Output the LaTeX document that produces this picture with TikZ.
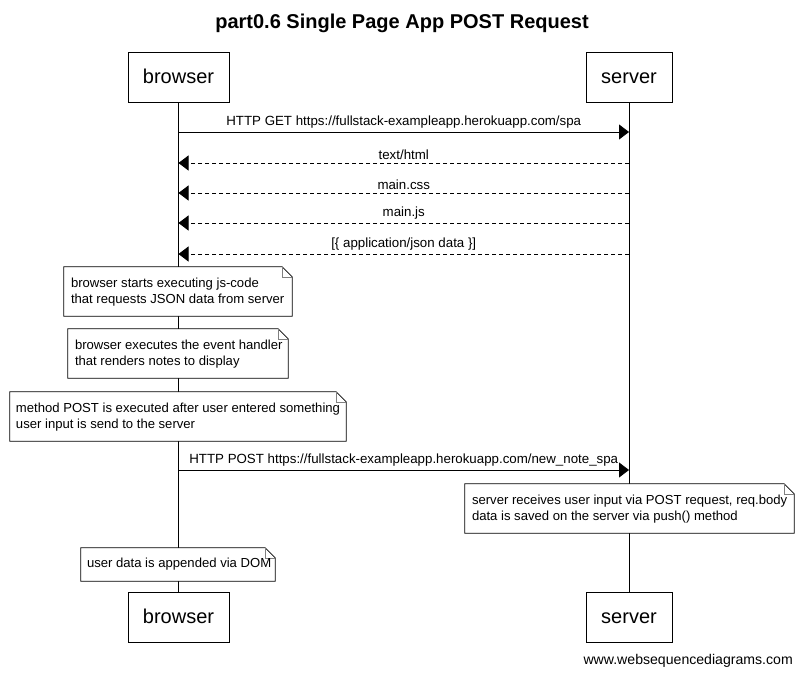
\documentclass[tikz,border=0pt]{standalone}
\usepackage{fontspec}
\setmainfont{Liberation Sans}
\usetikzlibrary{arrows.meta,fit}
\tikzset{
  actor/.style={draw, line width=0.8pt, fill=white, minimum width=#1, minimum height=50pt, inner sep=0pt, text height=14pt, text depth=2pt, font=\fontsize{20}{24}\selectfont},
  msg/.style={line width=0.8pt, -{Triangle[length=10pt,width=15pt]}},
  reply/.style={msg, dash pattern=on 4pt off 3pt},
  lbl/.style={font=\fontsize{13.3}{16}\selectfont, inner sep=0pt, anchor=base},
  notetext/.style={font=\fontsize{13.1}{16}\selectfont, align=left, inner sep=0pt, anchor=north west, text depth=0pt},
  life/.style={line width=0.8pt},
}
\newcommand{\drawnote}[1]{%
  \draw[line width=0.8pt, fill=white] (#1.north west) -- ([xshift=-10pt]#1.north east) -- ([yshift=-10pt]#1.north east) -- (#1.south east) -- (#1.south west) -- cycle;
  \draw[line width=0.6pt, draw=gray] ([xshift=-10pt]#1.north east) -- ([xshift=-10pt,yshift=-10pt]#1.north east) -- ([yshift=-10pt]#1.north east);
}
\newcommand{\notearea}[5]{% name, x1, y1, x2, y2
  \path (#2,#3) coordinate (#1nw) (#4,#5) coordinate (#1se);
  \node[fit=(#1nw)(#1se), inner sep=0pt] (#1) {};
}
\begin{document}
\begin{tikzpicture}[x=1pt,y=-1pt]
\useasboundingbox[fill=white] (0,0) rectangle (802,677);
\node[font=\bfseries\fontsize{20}{24}\selectfont] (title) at (402,23) {part0.6 Single Page App POST Request};

\node[actor=101pt] (bt) at (178.5,77) {browser};
\node[actor=86pt] (st) at (629,77) {server};
\node[actor=101pt] (bb) at (178.5,617.5) {browser};
\node[actor=86pt] (sb) at (629,617.5) {server};
\draw[life] (bt.south) -- (bb.north);
\draw[life] (st.south) -- (sb.north);

% messages
\path (bt.south |- 0,132) coordinate (m1a) (st.south |- 0,132) coordinate (m1b);
\draw[msg] (m1a) -- (m1b) node[lbl, midway, above=3pt] {HTTP GET https://fullstack-exampleapp.herokuapp.com/spa};
\path (st.south |- 0,163) coordinate (m2a) (bt.south |- 0,163) coordinate (m2b);
\draw[reply] (m2a) -- (m2b) node[lbl, midway, above=3pt] {text/html};
\path (st.south |- 0,193) coordinate (m3a) (bt.south |- 0,193) coordinate (m3b);
\draw[reply] (m3a) -- (m3b) node[lbl, midway, above=3pt] {main.css};
\path (st.south |- 0,223) coordinate (m4a) (bt.south |- 0,223) coordinate (m4b);
\draw[reply] (m4a) -- (m4b) node[lbl, midway, above=3pt] {main.js};
\path (st.south |- 0,254) coordinate (m5a) (bt.south |- 0,254) coordinate (m5b);
\draw[reply] (m5a) -- (m5b) node[lbl, midway, above=3pt] {[\{ application/json data \}]};

% notes
\notearea{n1}{64}{267}{292}{316}
\drawnote{n1}
\node[notetext] (t1) at ([xshift=7pt,yshift=-11pt]n1.north west) {browser starts executing js-code\\that requests JSON data from server};

\notearea{n2}{68}{329}{288}{378}
\drawnote{n2}
\node[notetext] (t2) at ([xshift=7pt,yshift=-11pt]n2.north west) {browser executes the event handler\\that renders notes to display};

\notearea{n3}{10}{392}{346}{441}
\drawnote{n3}
\node[notetext] (t3) at ([xshift=6pt,yshift=-11pt]n3.north west) {method POST is executed after user entered something\\user input is send to the server};

\path (bt.south |- 0,470) coordinate (m6a) (st.south |- 0,470) coordinate (m6b);
\draw[msg] (m6a) -- (m6b) node[lbl, midway, above=3pt] {HTTP POST https://fullstack-exampleapp.herokuapp.com/new\_note\_spa};

\notearea{n4}{465}{484}{794}{533}
\drawnote{n4}
\node[notetext] (t4) at ([xshift=7pt,yshift=-11pt]n4.north west) {server receives user input via POST request, req.body\\data is saved on the server via push() method};

\notearea{n5}{81}{548}{275}{581}
\drawnote{n5}
\node[notetext] (t5) at ([xshift=6pt,yshift=-10pt]n5.north west) {user data is appended via DOM};

\node[font=\fontsize{14.1}{17}\selectfont, anchor=east, inner sep=0pt] (footer) at (793,661) {www.websequencediagrams.com};
\end{tikzpicture}
\end{document}
